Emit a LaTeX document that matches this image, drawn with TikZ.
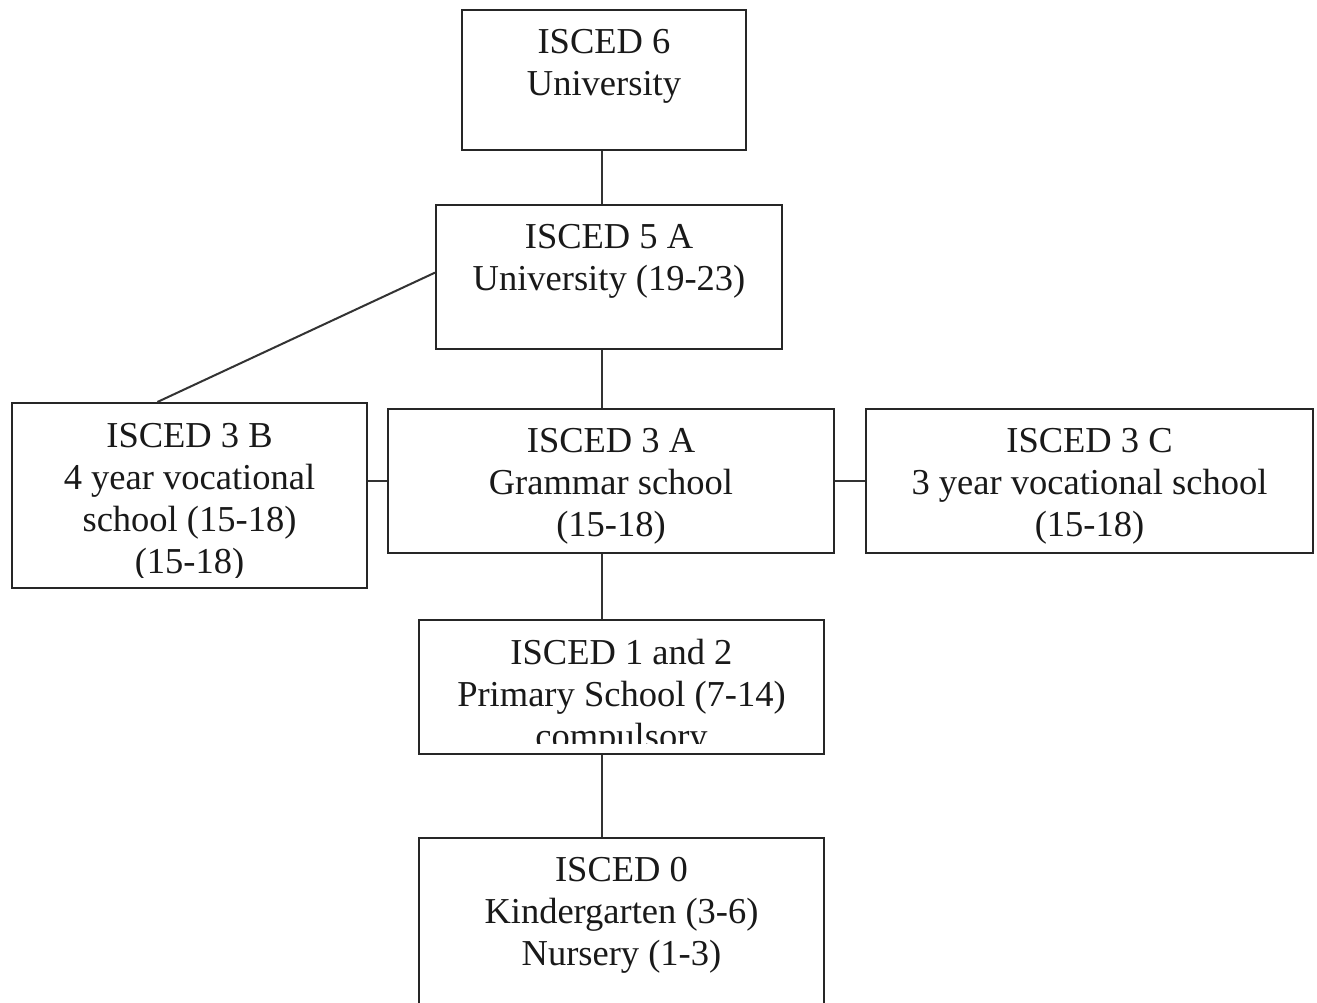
\documentclass[tikz,border=0pt]{standalone}
\usepackage{fontspec}
\setmainfont{Liberation Serif}
\usetikzlibrary{fit,calc}
\begin{document}
\begin{tikzpicture}[x=1pt,y=-1pt,
  box/.style={draw=black!85, line width=2pt, inner sep=0pt, fit={#1}},
  lbl/.style={anchor=north, inner sep=0pt, align=center,
              font=\fontsize{36.5}{42}\selectfont, text=black!90},
  link/.style={draw=black!80, line width=2pt}]
  \path[use as bounding box, clip] (0,0) rectangle (1317,1002);
  \fill[white] (0,0) rectangle (1317,1002);

  % boxes
  \node[box={(462,10) (746,150)}]   (b6)  {};
  \node[box={(436,205) (782,349)}]  (b5a) {};
  \node[box={(12,403) (367,588)}]   (b3b) {};
  \node[box={(388,409) (834,553)}]  (b3a) {};
  \node[box={(866,409) (1313,553)}] (b3c) {};
  \node[box={(419,620) (824,754)}]  (b12) {};
  \node[box={(419,838) (824,1030)}] (b0)  {};

  % labels
  \node[lbl] (t6)  at (604,29)  {ISCED 6\\University};
  \node[lbl] (t5a) at (609,224) {ISCED 5 A\\University (19-23)};
  \begin{scope}
    \clip (12,403) rectangle (367,577);
    \node[lbl] (t3b) at (189.5,423) {ISCED 3 B\\4 year vocational\\school (15-18)\\(15-18)};
  \end{scope}
  \node[lbl] (t3a) at (611,428)  {ISCED 3 A\\Grammar school\\(15-18)};
  \node[lbl] (t3c) at (1089.5,428) {ISCED 3 C\\3 year vocational school\\(15-18)};
  \begin{scope}
    \clip (419,620) rectangle (824,743);
    \node[lbl] (t12) at (621.5,639) {ISCED 1 and 2\\Primary School (7-14)\\compulsory};
  \end{scope}
  \node[lbl] (t0)  at (621.5,857) {ISCED 0\\Kindergarten (3-6)\\Nursery (1-3)};

  % connectors
  \coordinate (spine) at (602,0);
  \draw[link] (b6.south -| spine) -- (b5a.north -| spine);
  \draw[link] (b5a.south -| spine) -- (b3a.north -| spine);
  \draw[link] (b3a.south -| spine) -- (b12.north -| spine);
  \draw[link] (b12.south -| spine) -- (b0.north -| spine);
  \draw[link] (b3a.west -| b3b.east) -- (b3a.west);
  \draw[link] (b3a.east) -- (b3c.west);
  \draw[link] ($(b5a.north west)!0.47!(b5a.south west)$)
           -- ($(b3b.north west)!0.41!(b3b.north east)$);
\end{tikzpicture}
\end{document}
